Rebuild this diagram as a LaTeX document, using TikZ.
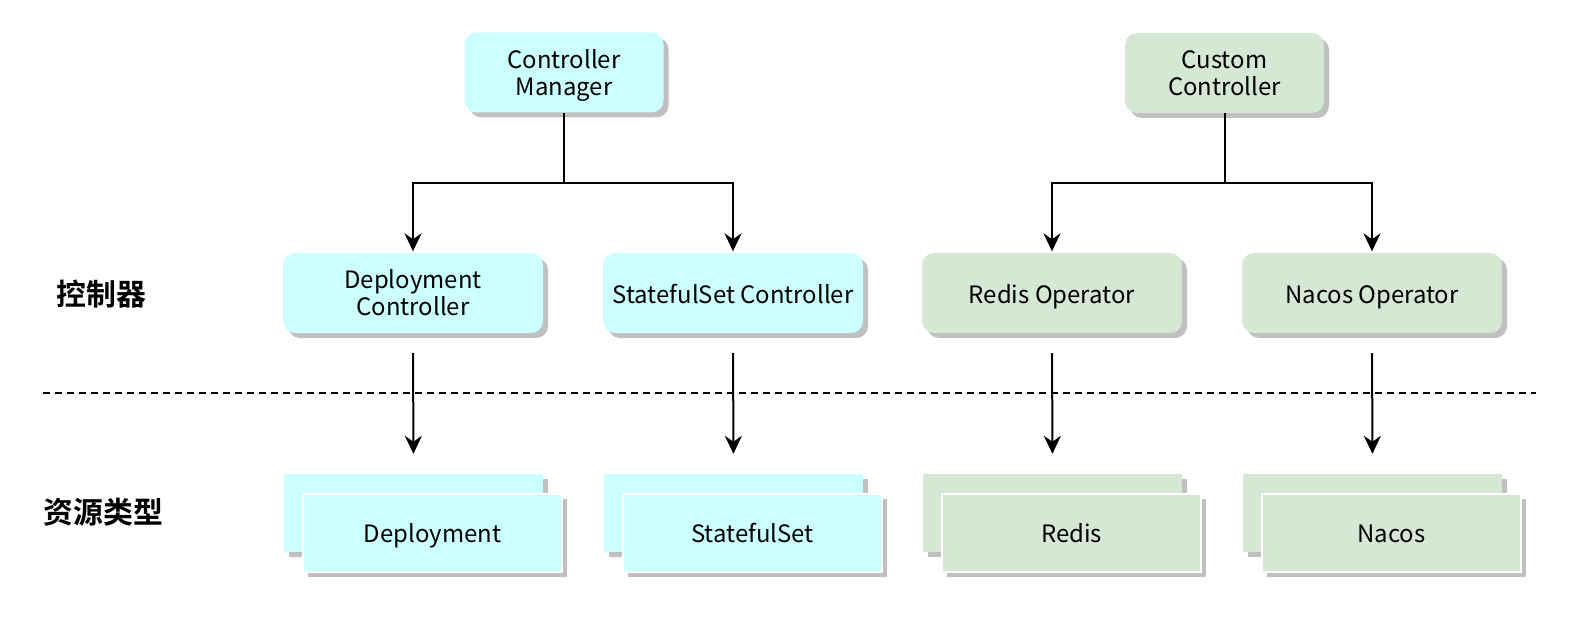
\documentclass[tikz,border=0pt]{standalone}
\usepackage{fontspec}
\setmainfont{Noto Sans CJK SC}
\newfontfamily\cjkbold{Noto Sans CJK SC Bold}
\usetikzlibrary{arrows.meta,shadows}
\definecolor{cyanfill}{HTML}{CCFFFF}
\definecolor{greenfill}{HTML}{D5E8D4}
\definecolor{shadowgray}{HTML}{C0C0C0}
\tikzset{
  shad/.style={drop shadow={shadow xshift=5bp,shadow yshift=-5bp,fill=shadowgray,opacity=1}},
  txt/.style={font=\fontsize{24}{27}\selectfont,inner sep=0pt},
  one/.style={text height=21bp,text depth=0bp},
  two/.style={align=center,text height=45.5bp,text depth=0bp},
  topbox/.style={shad,txt,two,rounded corners=12bp,minimum width=199bp,minimum height=80bp},
  midbox/.style={shad,txt,rounded corners=12bp,minimum width=260bp,minimum height=80bp},
  resbox/.style={shad,txt,minimum width=259bp,minimum height=78bp},
  frontbox/.style={resbox,one,text height=20bp,draw=white,line width=2bp},
  conn/.style={line width=2bp,-{Stealth[length=18bp,width=17bp,inset=6bp]}},
  plain/.style={line width=2bp},
  sep/.style={line width=1.5bp,dash pattern=on 7bp off 5bp},
  lab/.style={font=\cjkbold\fontsize{30}{34}\selectfont}
}
\begin{document}
\begin{tikzpicture}[x=1bp,y=-1bp]
\useasboundingbox (0,0) rectangle (1578,620);
% top
\node[topbox,fill=cyanfill] (cm) at (564,72.5) {Controller\\Manager};
\node[topbox,fill=greenfill] (cc) at (1224.5,73) {Custom\\Controller};
% middle
\node[midbox,two,fill=cyanfill] (dc) at (413,293) {Deployment\\Controller};
\node[midbox,one,fill=cyanfill] (sc) at (733,293) {StatefulSet Controller};
\node[midbox,one,fill=greenfill] (ro) at (1052,293) {Redis Operator};
\node[midbox,one,fill=greenfill] (no) at (1372,293) {Nacos Operator};
% labels
\node[lab] (l1) at (101.5,294.5) {控制器};
\node[lab] (l2) at (103.5,512.5) {资源类型};
% bottom stacks
\node[resbox,fill=cyanfill] (db) at (413.5,513) {};
\node[frontbox,fill=cyanfill] (df) at (432.5,532.5) {Deployment};
\node[resbox,fill=cyanfill] (sb) at (733.5,513) {};
\node[frontbox,fill=cyanfill] (sf) at (752.5,532.5) {StatefulSet};
\node[resbox,fill=greenfill] (rb) at (1052.5,513) {};
\node[frontbox,fill=greenfill] (rf) at (1071.5,532.5) {Redis};
\node[resbox,fill=greenfill] (nb) at (1372.5,513) {};
\node[frontbox,fill=greenfill] (nf) at (1391.5,532.5) {Nacos};
% dashed separator
\coordinate (s1) at (43,393);
\coordinate (s2) at (1536,393);
\draw[sep] (s1) -- (s2);
% tree connectors
\coordinate (cmj) at (564,182.7);
\coordinate (ccj) at (1224.5,182.7);
\draw[plain] (cm.south) -- (cmj);
\draw[conn,shorten >=1.5bp] (cmj) -| (dc.north);
\draw[conn,shorten >=1.5bp] (cmj) -| (sc.north);
\draw[plain] (cc.south) -- (ccj);
\draw[conn,shorten >=1.5bp] (ccj) -| (ro.north);
\draw[conn,shorten >=1.5bp] (ccj) -| (no.north);
% lower arrows
\draw[conn,shorten <=20bp,shorten >=20bp] (dc.south) -- (db.north);
\draw[conn,shorten <=20bp,shorten >=20bp] (sc.south) -- (sb.north);
\draw[conn,shorten <=20bp,shorten >=20bp] (ro.south) -- (rb.north);
\draw[conn,shorten <=20bp,shorten >=20bp] (no.south) -- (nb.north);
\end{tikzpicture}
\end{document}
